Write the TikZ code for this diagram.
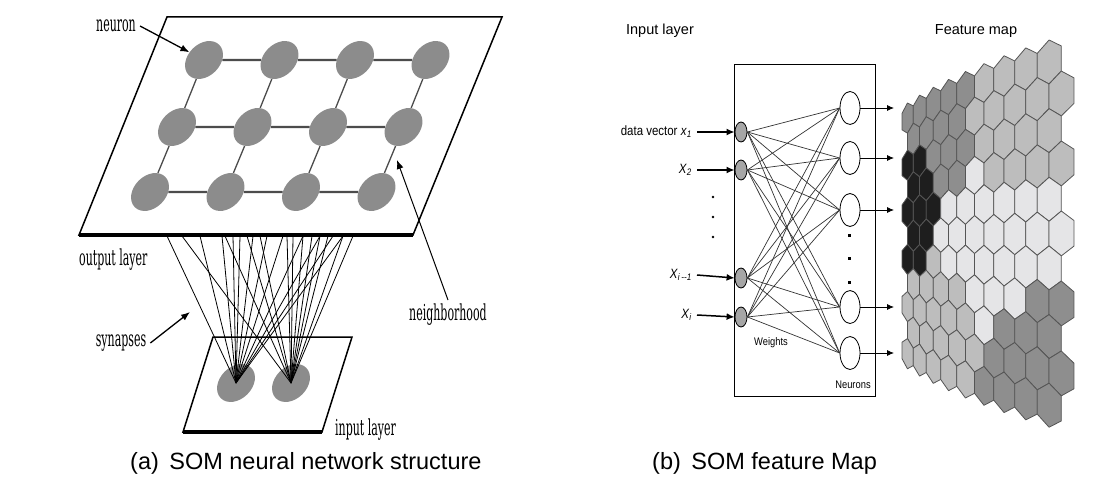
\documentclass[tikz,border=0pt]{standalone}
\usepackage{fontspec}
\setmainfont{Liberation Sans}
\newfontfamily\labelserif[FakeStretch=0.5]{DejaVu Serif}
\newfontfamily\narrowsans[FakeStretch=0.85]{Liberation Sans}
\usepackage{tikz}
\usetikzlibrary{arrows.meta,positioning,shapes.geometric}

\definecolor{hexD}{HTML}{8E8E8E}
\definecolor{hexM}{HTML}{BDBDBD}
\definecolor{hexL}{HTML}{E5E5E7}
\definecolor{hexK}{HTML}{1E1E1E}
\definecolor{cellline}{HTML}{555555}
\definecolor{neurgray}{HTML}{8C8C8C}
\definecolor{unitgray}{HTML}{A6A6A6}

\begin{document}
\begin{tikzpicture}[x=1pt, y=-1pt,
  declare function={hx(\u)=902+10.5*\u+0.8*\u*\u;
                    hy(\u,\v)=103-7.875*(\u-0.5)+\v*(30.2+1.725*(\u-0.5));},
  plane/.style={draw=black, line width=1.5pt, fill=white, line join=miter},
  neuron/.style={ellipse, fill=neurgray, minimum width=43pt, minimum height=32pt,
              inner sep=0pt, rotate=45},
  rowlink/.style={draw=black!70, line width=2.4pt},
  collink/.style={draw=black!70, line width=1.3pt},
  synapse/.style={draw=black, line width=0.8pt},
  lbl/.style={font=\labelserif\fontsize{22}{24}\selectfont, inner sep=0pt},
  ptr/.style={-{Latex[length=9pt,width=7pt]}, line width=1.3pt},
  thinptr/.style={-{Latex[length=9pt,width=7pt]}, line width=1pt},
  inunit/.style={ellipse, draw=black, line width=0.8pt, fill=unitgray,
              minimum width=12pt, minimum height=20pt, inner sep=0pt},
  outunit/.style={ellipse, draw=black, line width=0.8pt, fill=white,
              minimum width=20pt, minimum height=33pt, inner sep=0pt},
  weight/.style={draw=black!80, line width=0.7pt},
  inarr/.style={-{Latex[length=8pt,width=7pt]}, line width=1.5pt},
  outarr/.style={-{Latex[length=7pt,width=6pt]}, line width=0.8pt},
  headtxt/.style={font=\fontsize{14.5}{16}\selectfont, inner sep=0pt},
  vectxt/.style={font=\narrowsans\fontsize{13.5}{15}\selectfont, inner sep=0pt},
  boxtxt/.style={font=\narrowsans\fontsize{11}{12}\selectfont, inner sep=0pt},
  captxt/.style={font=\fontsize{23.5}{26}\selectfont, inner sep=0pt, anchor=west},
  cell/.style={draw=cellline, line width=0.8pt, line join=round}
]
\useasboundingbox (0,0) rectangle (1113,489);

% (a) output layer
\draw[plane] (167,17) -- (502,17) -- (413,235) -- (79,235) -- cycle;
\draw[line width=3.5pt] (79,235) -- (413,235);
\foreach \r/\y/\x in {1/60/204, 2/127/177, 3/192/150}
  \foreach \c in {1,...,4}
    \node[neuron] (n\r\c) at ({\x+75.5*(\c-1)},\y) {};
\foreach \r in {1,2,3}
  \draw[rowlink] (n\r1) -- (n\r2) -- (n\r3) -- (n\r4);
\foreach \c in {1,...,4}
  \draw[collink] (n1\c) -- (n2\c) -- (n3\c);

% (a) input layer
\draw[plane] (213,337) -- (352,337) -- (322,432) -- (183,432) -- cycle;
\draw[line width=3.5pt] (183,432) -- (322,432);
\node[neuron] (in1) at (236,383) {};
\node[neuron] (in2) at (291,383) {};
\foreach \sx in {167,200,222,233,240,253,267,283,303,320,333,343}
  \draw[synapse] (\sx,236) -- (in1.center);
\foreach \sx in {182,225,247,260,287,293,303,312,320,328,343,353}
  \draw[synapse] (\sx,236) -- (in2.center);

% (a) labels
\node[lbl] (neuronlbl) at (116,26) {neuron};
\draw[ptr] ([xshift=4pt]neuronlbl.east) -- (n11);
\node[lbl, anchor=west] (outlbl) at (79,260) {output layer};
\node[lbl] (synlbl) at (121,343) {synapses};
\coordinate (synend) at (190,312);
\draw[ptr] ([xshift=4pt]synlbl.east) -- (synend);
\node[lbl] (nbhlbl) at (448,315) {neighborhood};
\coordinate (nbhend) at (397,160);
\draw[thinptr] ([yshift=4pt]nbhlbl.north) -- (nbhend);
\node[lbl, anchor=west] (inlbl) at (335,430) {input layer};

% (b) network
\node[headtxt] (inhead) at (660,31) {Input layer};
\node[headtxt] (maphead) at (976,31) {Feature map};
\draw[line width=0.8pt] (734,64) rectangle (875,396);
\node[inunit] (x1) at (741,132) {};
\node[inunit] (x2) at (741,170) {};
\node[inunit] (x3) at (741,278) {};
\node[inunit] (x4) at (741,317) {};
\foreach \j/\y in {1/108, 2/158, 3/210, 4/307, 5/353}{
  \node[outunit] (y\j) at (850,\y) {};
  \coordinate (o\j) at (894,\y);
  \draw[outarr] (y\j.east) -- (o\j);
}
\foreach \i in {1,...,4}
  \foreach \j in {1,...,5}
    \draw[weight] (x\i.east) -- (y\j.west);
\node[vectxt, anchor=east] (l1) at (692,132) {data vector \textit{x}\textsubscript{\textit{1}}};
\node[vectxt, anchor=east] (l2) at (692,170) {\textit{X}\textsubscript{\textit{2}}};
\node[vectxt, anchor=east] (l3) at (692,275) {\textit{X}\textsubscript{\textit{i}\,\textit{--1}}};
\node[vectxt, anchor=east] (l4) at (692,315) {\textit{X}\textsubscript{\textit{i}}};
\foreach \i in {1,...,4}
  \draw[inarr] ([xshift=5pt]l\i.east) -- (x\i.west);
\foreach \y in {197,217,237}
  \fill (713,\y) circle (1.4pt);
\foreach \y in {235,258,282}
  \fill (849,\y) ++(-1.5,-1.5) rectangle ++(3,3);
\node[boxtxt] (wlbl) at (771,343) {Weights};
\node[boxtxt] (nlbl) at (853,385) {Neurons};

% (b) feature map
\foreach \cols [count=\r from 0] in {
  {D,D,D,D,D,M,M,M,M},
  {D,D,D,D,M,M,M,M,M},
  {K,K,D,D,D,M,M,M,M},
  {K,K,D,D,L,M,M,M,M},
  {K,K,K,L,L,L,L,L,L},
  {K,K,L,L,L,L,L,L,L},
  {K,K,M,L,L,L,L,L,L},
  {M,M,M,M,L,L,L,D,D},
  {M,M,M,M,M,L,D,D,D},
  {M,M,M,M,M,D,D,D,D},
  {M,M,M,M,M,D,D,D,D}}{
  \foreach \k [count=\c from 0] in \cols {
    \pgfmathsetmacro\ua{\c+0.5+0.5*mod(\r,2)}
    \pgfmathsetmacro\ul{\ua-0.5}
    \pgfmathsetmacro\ur{\ua+0.5}
    \pgfmathsetmacro\va{0.78*\r}
    \filldraw[cell, fill=hex\k]
      ({hx(\ua)},{hy(\ua,\va)}) -- ({hx(\ur)},{hy(\ur,\va+0.22)})
      -- ({hx(\ur)},{hy(\ur,\va+0.78)}) -- ({hx(\ua)},{hy(\ua,\va+1)})
      -- ({hx(\ul)},{hy(\ul,\va+0.78)}) -- ({hx(\ul)},{hy(\ul,\va+0.22)}) -- cycle;
  }
}

% captions
\node[captxt] (capa) at (130,463) {(a)\, SOM neural network structure};
\node[captxt] (capb) at (652,463) {(b)\, SOM feature Map};
\end{tikzpicture}
\end{document}
